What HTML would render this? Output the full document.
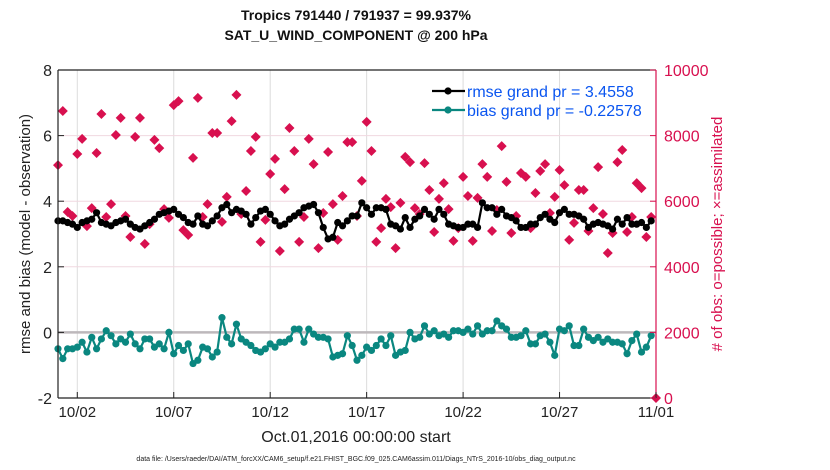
<!DOCTYPE html>
<html><head><meta charset="utf-8"><style>
body{margin:0;background:#fff;}
svg{display:block;font-family:"Liberation Sans",Arial,sans-serif;}
</style></head><body>
<svg id="chart" width="830" height="470" viewBox="0 0 830 470" xmlns="http://www.w3.org/2000/svg">
<rect width="830" height="470" fill="#fff"/>
<g id="grid"></g>
<g id="marks"></g>
<g id="axes"></g>
</svg>
<script>
const xTickLabels = ["10/02","10/07","10/12","10/17","10/22","10/27","11/01"];
const xTickDays = [1,6,11,16,21,26,31];
const leftTicks = [8,6,4,2,0,-2];
const rightTicks = [10000,8000,6000,4000,2000,0];
const rmse = [3.4,3.4,3.35,3.3, 3.2,3.35,3.4,3.45, 3.65,3.35,3.3,3.25, 3.35,3.4,3.45,3.3,
 3.2,3.15,3.25,3.35, 3.45,3.6,3.65,3.7, 3.75,3.6,3.5,3.35, 3.3,3.55,3.3,3.25,
 3.4,3.55,3.8,3.9, 3.65,3.75,3.7,3.6, 3.3,3.5,3.7,3.75, 3.6,3.4,3.25,3.3,
 3.45,3.55,3.65,3.8, 3.85,3.9,3.65,3.2, 2.85,2.9,3.35,3.25, 3.4,3.55,3.55,3.95,
 3.8,3.6,3.8,3.8, 3.75,3.3,3.25,3.15, 3.5,3.2,3.45,3.55, 3.75,3.6,3.45,3.75,
 3.6,3.3,3.25,3.2, 3.2,3.3,3.3,3.2, 3.95,3.8,3.8,3.6, 3.75,3.55,3.5,3.4,
 3.2,3.2,3.3,3.3, 3.5,3.6,3.45,3.35, 3.65,3.75,3.6,3.6, 3.55,3.45,3.2,3.3,
 3.35,3.3,3.25,3.15, 3.45,3.3,3.5,3.3, 3.3,3.35,3.2,3.4];
const bias = [-0.5,-0.8,-0.5,-0.5, -0.45,-0.3,-0.6,-0.15, -0.5,-0.2,0.05,-0.1, -0.35,-0.2,-0.3,-0.05,
 -0.35,-0.5,-0.2,-0.2, -0.45,-0.35,-0.5,0.0, -0.65,-0.4,-0.55,-0.35, -0.95,-0.85,-0.45,-0.5,
 -0.75,-0.6,0.45,-0.15, -0.35,0.25,-0.2,-0.3, -0.4,-0.55,-0.6,-0.5, -0.35,-0.45,-0.3,-0.3,
 -0.2,0.1,0.1,-0.3, 0.1,-0.05,-0.15,-0.15, -0.2,-0.75,-0.7,-0.65, -0.1,-0.4,-0.85,-0.7,
 -0.45,-0.55,-0.4,-0.2, -0.4,-0.1,-0.7,-0.6, -0.55,0.0,-0.2,-0.15, 0.2,-0.05,0.05,-0.1,
 -0.05,-0.15,0.05,0.05, 0.0,0.1,-0.05,0.2, -0.05,0.05,0.05,0.35, 0.2,0.1,-0.15,-0.15,
 -0.1,0.05,-0.35,-0.35, -0.1,-0.05,-0.3,-0.7, 0.1,0.05,0.2,-0.4, -0.4,0.1,-0.15,-0.25,
 -0.15,-0.3,-0.2,-0.3, -0.3,-0.35,-0.65,-0.25, -0.05,-0.6,-0.45,-0.1];
const obsCount = [7100,8750,5670,5550,7440,7900,5240,5790,7470,8660,5520,5910,8020,8540,5550,4910,
 7960,8540,4700,5300,7870,7620,5760,5490,8930,9050,5120,4970,7320,9150,5520,5910,
 8080,8080,5370,6130,8440,9240,5610,6310,7530,7960,4760,5430,6830,7290,4480,6370,
 8230,7530,4760,5520,7900,7130,4570,5640,7500,5910,4820,6160,7800,7800,5550,6620,
 8420,7530,4760,5180,6070,5820,4570,5950,7350,7190,5790,5610,7160,6340,5060,6070,
 6550,5760,4790,5180,6740,6160,4790,6100,7130,6740,5090,5730,7680,6590,5030,5550,
 6860,6740,5180,6250,6920,7130,5640,6130,6950,6490,4820,5340,6340,6340,5090,5790,
 7040,5610,4420,5030,7190,7560,5060,5520,6550,6400,4910,5520,0];

const X0=58, X1=656, Y0=70, Y1=398;
const xs = d => X0 + d/31*(X1-X0);
const yl = v => Y1 - (v+2)/10*(Y1-Y0);
const yr = v => Y1 - v/10000*(Y1-Y0);
const NS="http://www.w3.org/2000/svg";
function mk(parent,tag,attrs){const e=document.createElementNS(NS,tag);for(const k in attrs)e.setAttribute(k,attrs[k]);parent.appendChild(e);return e;}
const grid=document.getElementById('grid'), marks=document.getElementById('marks'), axes=document.getElementById('axes');

xTickDays.forEach((d,i)=>{
  const g=mk(grid,'line',{x1:xs(d),x2:xs(d),y1:Y0,y2:Y1,stroke:'#dcdcdc','stroke-width':1});
  
  
});
rightTicks.forEach(v=>{
  if(v===0||v===10000)return;
  const g=mk(grid,'line',{x1:X0,x2:X1,y1:yr(v),y2:yr(v),stroke:'#f0d8e0','stroke-width':1});
  
  
});
const zl=mk(grid,'line',{x1:X0,x2:X1,y1:yl(0),y2:yl(0),stroke:'#bdb8bb','stroke-width':2.5});



// obs diamonds
obsCount.forEach((v,i)=>{
  const x=xs(i/4), y=yr(v);
  const p=mk(marks,'path',{d:`M${x} ${y-5}L${x+5} ${y}L${x} ${y+5}L${x-5} ${y}Z`,fill:'#d8104f'});
  
  
});
function series(arr,color,name){
  const pts=arr.map((v,i)=>xs(i/4).toFixed(1)+','+yl(v).toFixed(1)).join(' ');
  const pl=mk(marks,'polyline',{points:pts,fill:'none',stroke:color,'stroke-width':2.2});
  
  
  arr.forEach((v,i)=>{
    const c=mk(marks,'circle',{cx:xs(i/4),cy:yl(v),r:3.6,fill:color});
    
    
  });
}
series(rmse,'#000','rmse');
series(bias,'#0a8780','bias');

// axes lines
[[X0,Y0,X0,Y1,'#222'],[X0,Y1,X1,Y1,'#222'],[X0,Y0,X1,Y0,'#222'],[X1,Y0,X1,Y1,'#d8104f']].forEach(a=>{
  const l=mk(axes,'line',{x1:a[0],y1:a[1],x2:a[2],y2:a[3],stroke:a[4],'stroke-width':1.2});
  
  
});
xTickDays.forEach((d,i)=>{
  mk(axes,'line',{x1:xs(d),x2:xs(d),y1:Y1,y2:Y1-6,stroke:'#222'});
  const t=mk(axes,'text',{x:xs(d),y:417,'text-anchor':'middle','font-size':15,fill:'#222'});
  t.textContent=xTickLabels[i];
  
  
});
leftTicks.forEach(v=>{
  mk(axes,'line',{x1:X0,x2:X0+6,y1:yl(v),y2:yl(v),stroke:'#222'});
  const t=mk(axes,'text',{x:52,y:yl(v)+6,'text-anchor':'end','font-size':16,fill:'#222'});
  t.textContent=v;
  
  
});
rightTicks.forEach(v=>{
  mk(axes,'line',{x1:X1,x2:X1-6,y1:yr(v),y2:yr(v),stroke:'#d8104f'});
  const t=mk(axes,'text',{x:664,y:yr(v)+6,'text-anchor':'start','font-size':16,fill:'#d8104f'});
  t.textContent=v;
  
  
});
</script>
<svg style="position:absolute;left:0;top:0" width="830" height="470">
<text x="356" y="20" text-anchor="middle" font-size="14" font-weight="bold" fill="#111">Tropics 791440 / 791937 = 99.937%</text>
<text x="356" y="40" text-anchor="middle" font-size="14" font-weight="bold" fill="#111">SAT_U_WIND_COMPONENT @ 200 hPa</text>
<text transform="translate(30,234) rotate(-90)" text-anchor="middle" font-size="15" fill="#222">rmse and bias (model - observation)</text>
<text transform="translate(722,234) rotate(-90)" text-anchor="middle" font-size="15" fill="#d8104f"># of obs: o=possible; ×=assimilated</text>
<text x="356" y="442" text-anchor="middle" font-size="16" fill="#222">Oct.01,2016 00:00:00 start</text>
<text x="356" y="461" text-anchor="middle" font-size="7" fill="#222">data file: /Users/raeder/DAI/ATM_forcXX/CAM6_setup/f.e21.FHIST_BGC.f09_025.CAM6assim.011/Diags_NTrS_2016-10/obs_diag_output.nc</text>
<g>
<line x1="432" y1="91" x2="465" y2="91" stroke="#000" stroke-width="2.2"/><circle cx="448" cy="91" r="3.6" fill="#000"/>
<text x="467" y="97" font-size="16" fill="#0a55f0">rmse grand pr = 3.4558</text>
<line x1="432" y1="110" x2="465" y2="110" stroke="#0a8780" stroke-width="2.2"/><circle cx="448" cy="110" r="3.6" fill="#0a8780"/>
<text x="467" y="116" font-size="16" fill="#0a55f0">bias grand pr = -0.22578</text>
</g>
</svg>
</body></html>
